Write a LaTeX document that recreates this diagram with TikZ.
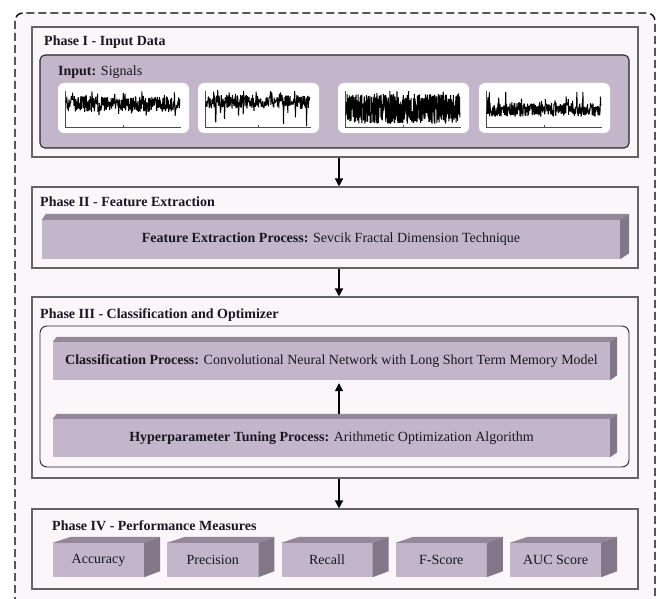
\documentclass[tikz,border=0pt]{standalone}
\usepackage{fontspec}
\setmainfont{Liberation Serif}
\usetikzlibrary{arrows.meta,calc}
\newcommand{\taille}{\fontsize{14}{16}\selectfont}
\definecolor{fondrose}{RGB}{251,246,250}
\definecolor{lilas}{RGB}{196,182,202}
\definecolor{lilasfonce}{RGB}{148,135,153}
\definecolor{lilasombre}{RGB}{132,118,137}
\definecolor{bordgris}{RGB}{100,100,100}
\definecolor{texte}{RGB}{25,22,32}
\tikzstyle{phase}=[draw=bordgris,line width=1.1pt,fill=fondrose,minimum width=606pt,inner sep=0pt]
\tikzstyle{titre}=[anchor=west,inner sep=0pt,font=\taille\bfseries,text=texte]
\tikzstyle{face}=[fill=lilas,inner sep=0pt,text=texte,font=\taille]
\tikzstyle{dessus}=[fill=lilasfonce]
\tikzstyle{cote}=[fill=lilasombre]
\tikzstyle{fleche}=[line width=1.4pt,-{Triangle[length=8pt,width=8pt]}]
\tikzstyle{fenetre}=[fill=white,rounded corners=6pt,inner sep=0pt,minimum height=50pt]
\tikzstyle{axe}=[line width=0.4pt,black!70]
\tikzstyle{trace}=[line width=1pt,black,line join=bevel]

\begin{document}
\begin{tikzpicture}[x=1pt,y=-1pt]
\useasboundingbox (0,0) rectangle (659,599);
\clip (0,0) rectangle (659,599);
\fill[white] (0,0) rectangle (659,599);
\pgfmathsetseed{4217}

\draw[line width=1.4pt,dash pattern=on 8pt off 4pt,rounded corners=8pt,fill=fondrose] (15,13) rectangle (655,640);

\node[phase,minimum height=130pt] (ph1) at (335,92) {};
\node[phase,minimum height=81pt] (ph2) at (335,227.5) {};
\node[phase,minimum height=181pt] (ph3) at (335,387.5) {};
\node[phase,minimum height=80pt] (ph4) at (335,549) {};

\node[titre] (t1) at (44,42) {Phase I - Input Data};
\node[titre] (t2) at (40,202) {Phase II - Feature Extraction};
\node[titre] (t3) at (40,315) {Phase III - Classification and Optimizer};
\node[titre] (t4) at (52,526) {Phase IV - Performance Measures};

% phase I
\node[draw=black!85,line width=1.1pt,fill=lilas,rounded corners=5pt,minimum width=589pt,minimum height=93pt] (entree) at (334.5,101.5) {};
\node[titre,font=\taille] (tin) at (58,72) {\textbf{Input:} Signals};

\node[fenetre,minimum width=131pt] (sig1) at (123.5,108) {};
\node[fenetre,minimum width=121pt] (sig2) at (258.5,108) {};
\node[fenetre,minimum width=131pt] (sig3) at (403.5,108) {};
\node[fenetre,minimum width=131pt] (sig4) at (544.5,108) {};

\foreach \n/\w in {1/131,2/121,3/131,4/131}
{\begin{scope}[shift={(sig\n.north west)}]
\draw[axe] (7,8) -- (7,44) -- (\w-8,44);
\draw[axe] ({7+(\w-15)/2},44) -- ++(0,-1.5);
\end{scope}}

\begin{scope}[shift={(sig1.north west)}]
\draw[trace] plot[domain=8:122,samples=320,variable=\t] (\t,{21+8*rand*(1+0.6*(rnd>0.85))});
\end{scope}
\begin{scope}[shift={(sig2.north west)}]
\draw[trace] plot[domain=8:112,samples=290,variable=\t] (\t,{19+7*rand+18*(rnd>0.96)-5*(rnd>0.9)});
\end{scope}
\begin{scope}[shift={(sig3.north west)}]
\draw[trace,line width=1pt] plot[domain=8:122,samples=600,variable=\t] (\t,{26+15*rand-3*(rnd>0.9)});
\end{scope}
\begin{scope}[shift={(sig4.north west)}]
\draw[trace] plot[domain=8:122,samples=320,variable=\t] (\t,{27+7*rand-12*(rnd>0.93)});
\end{scope}

% phase II
\node[face,minimum width=578pt,minimum height=39pt] (fe) at (331,239.5) {\textbf{Feature Extraction Process:} Sevcik Fractal Dimension Technique};

% phase III
\node[draw=black!85,line width=0.9pt,fill=fondrose,rounded corners=7pt,minimum width=589pt,minimum height=141pt] (cadre) at (334.5,396.5) {};
\node[face,minimum width=557pt,minimum height=38pt] (cl) at (331.5,361) {\textbf{Classification Process:} Convolutional Neural Network with Long Short Term Memory Model};
\node[face,minimum width=557pt,minimum height=38pt] (hp) at (331.5,438) {\textbf{Hyperparameter Tuning Process:} Arithmetic Optimization Algorithm};

\fill[dessus] (fe.north west) -- ++(4,-6) -- ($(fe.north east)+(9,-6)$) -- (fe.north east) -- cycle;
\fill[cote] (fe.north east) -- ++(9,-6) -- ($(fe.south east)+(9,-6)$) -- (fe.south east) -- cycle;
\foreach \b in {cl,hp}
{\fill[dessus] (\b.north west) -- ++(4,-5) -- ($(\b.north east)+(7,-5)$) -- (\b.north east) -- cycle;
\fill[cote] (\b.north east) -- ++(7,-5) -- ($(\b.south east)+(7,-5)$) -- (\b.south east) -- cycle;}

% phase IV
\foreach \i/\m in {0/Accuracy,1/Precision,2/Recall,3/F-Score,4/AUC Score}
{\node[face,minimum width=91pt,minimum height=34pt] (m\i) at (98.5+114.25*\i,560) {\m};
\fill[dessus] (m\i.north west) -- ++(18,-6) -- ($(m\i.north east)+(16,-6)$) -- (m\i.north east) -- cycle;
\fill[cote] (m\i.north east) -- ++(16,-6) -- ($(m\i.south east)+(16,-6)$) -- (m\i.south east) -- cycle;}

\draw[fleche] ([xshift=4pt]ph1.south) -- ([xshift=4pt]ph2.north);
\draw[fleche] ([xshift=4pt]ph2.south) -- ([xshift=4pt]ph3.north);
\draw[fleche] ([xshift=4pt]ph3.south) -- ([xshift=4pt]ph4.north);
\draw[fleche] ([xshift=7.5pt,yshift=5pt]hp.north) -- ([xshift=7.5pt,yshift=-3pt]cl.south);

\end{tikzpicture}
\end{document}
